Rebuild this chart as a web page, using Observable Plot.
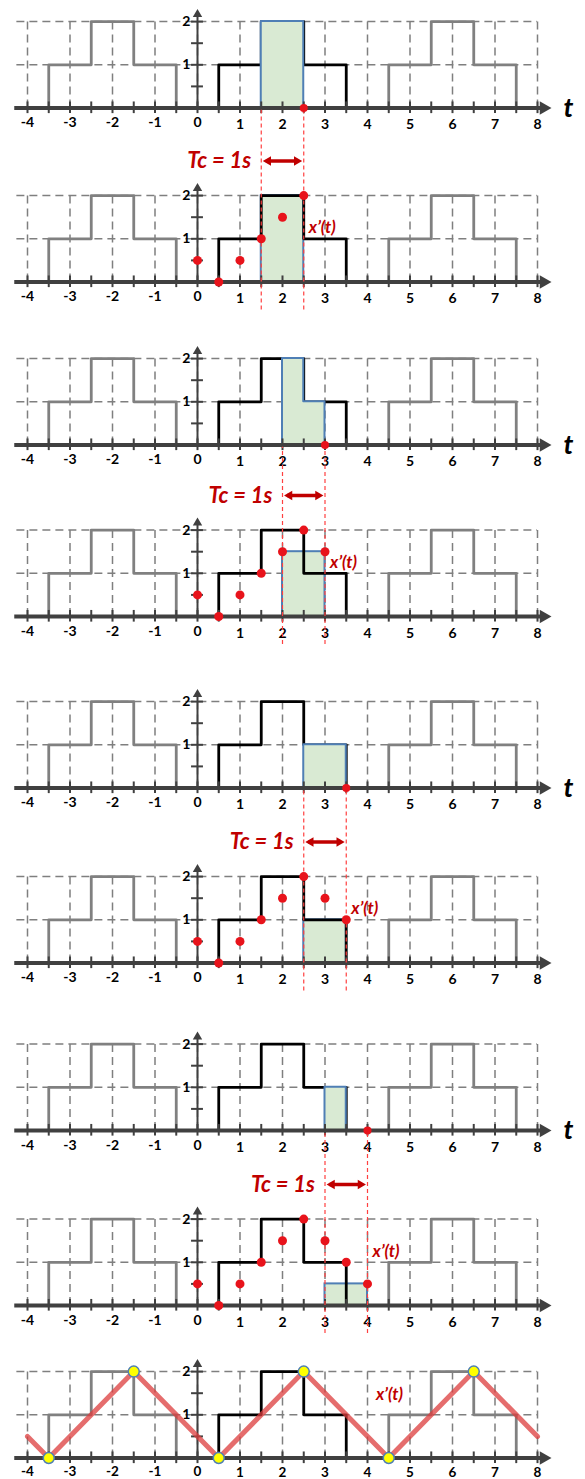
<!DOCTYPE html>
<html><head><meta charset="utf-8">
<script src="https://cdn.jsdelivr.net/npm/d3@7"></script>
<script src="https://cdn.jsdelivr.net/npm/@observablehq/plot@0.6"></script>
<style>body{margin:0;background:#fff}#chart svg{display:block}</style>
</head><body><div id="chart"></div>
<script>
// ---------- data ----------
const tickT = [-4,-3,-2,-1,0,1,2,3,4,5,6,7,8];
const tickLabels = ["-4","-3","-2","-1","0","1","2","3","4","5","6","7","8"];
const halfTickT = [-4,-3.5,-3,-2.5,-2,-1.5,-1,-0.5,0,0.5,1,1.5,2,2.5,3,3.5,4,4.5,5,5.5,6,6.5,7,7.5,8];
const yLabelValues = [1,2];
const yMinorTicks = [0.5,1,1.5,2];
const gridLevels = [1,2];
const signalEdges = [0.5,1.5,2.5,3.5];
const signalLevels = [1,2,1,0];
const signalPeriod = 4;
const copyShifts = [-4,0,4];
const windowStarts = [1.5,2,2.5,3];
const Tc = 1;
const xpT = [0,0.5,1,1.5,2,2.5,3,3.5,4];
const xpV = [0.5,0,0.5,1,1.5,2,1.5,1,0.5];
const triT = [-4,-3.5,-1.5,0.5,2.5,4.5,6.5,8];
const triV = [0.5,0,2,0,2,0,2,0.5];

// ---------- layout ----------
const W = 585, H = 1479, U = 43.2;
const baselinesPx = [107.5,281.5,444.5,616,787.5,962.5,1130,1305,1457.5];
const off = baselinesPx.map(b => (H - b) / U);
const panels = d3.range(off.length);
const pairs = d3.range(windowStarts.length);
const topP = k => 2*k, botP = k => 2*k+1, lastP = off.length - 1;

function sig(t){
  const tm = (((t - signalEdges[0]) % signalPeriod) + signalPeriod) % signalPeriod + signalEdges[0];
  let lv = 0;
  signalEdges.forEach((e,i) => { if (tm >= e - 1e-9) lv = signalLevels[i]; });
  return lv;
}

// signal step lines
const sigRows = [];
panels.forEach(p => copyShifts.forEach(s => {
  let prev = 0;
  sigRows.push({x: s + signalEdges[0], y: off[p], z: p + "_" + s, main: s === 0});
  signalEdges.forEach((e,i) => {
    sigRows.push({x: s + e, y: off[p] + prev, z: p + "_" + s, main: s === 0});
    sigRows.push({x: s + e, y: off[p] + signalLevels[i], z: p + "_" + s, main: s === 0});
    prev = signalLevels[i];
  });
}));

const gridH = panels.flatMap(p => gridLevels.map(v => ({y: off[p] + v})));
const gridV = panels.flatMap(p => tickT.map(t => ({x: t, y1: off[p], y2: off[p] + 2})));
const axisRows = panels.map(p => ({y: off[p]}));
const halfTicks = panels.flatMap(p => halfTickT.map(t => ({x: t, y1: off[p] - 0.13, y2: off[p] + 0.14})));
const yTicks = panels.flatMap(p => yMinorTicks.map(v => ({y: off[p] + v})));
const yAxis = panels.map(p => ({y1: off[p], y2: off[p] + 2.2, tip: off[p] + 2.33}));
const xLab = panels.flatMap(p => tickT.map((t,i) => ({p, x: t, y: off[p], label: tickLabels[i]})));
const xLabNeg = xLab.filter(d => d.x <= 0 && d.p !== lastP);
const xLabPos = xLab.filter(d => d.x > 0 && d.p !== lastP);
const xLabNegLast = xLab.filter(d => d.x <= 0 && d.p === lastP);
const xLabPosLast = xLab.filter(d => d.x > 0 && d.p === lastP);
const yLabs = panels.flatMap(p => yLabelValues.map(v => ({y: off[p] + v, label: String(v)})));

// windows
const avgAt = t => xpV[xpT.findIndex(v => Math.abs(v - t) < 1e-9)];
const botRects = pairs.map(k => ({x1: windowStarts[k], x2: windowStarts[k] + Tc, y1: off[botP(k)], y2: off[botP(k)] + avgAt(windowStarts[k] + Tc)}));
const topArea = [];
pairs.forEach(k => {
  const a = windowStarts[k], b = a + Tc;
  const xs = [a];
  copyShifts.forEach(s => signalEdges.forEach(e => { if (s+e > a + 1e-9 && s+e < b - 1e-9) xs.push(s+e); }));
  xs.sort((u,v) => u - v);
  xs.forEach(x => topArea.push({k, x, y1: off[topP(k)], y2: off[topP(k)] + sig(x)}));
  topArea.push({k, x: b, y1: off[topP(k)], y2: off[topP(k)] + sig(b - 1e-6)});
});
const redDash = pairs.flatMap(k => [windowStarts[k], windowStarts[k] + Tc].map(x => ({x, y1: off[botP(k)] - 0.65, y2: off[topP(k)] - 0.05})));
const botDots = pairs.flatMap(k => xpT.map((t,i) => ({x: t, y: off[botP(k)] + xpV[i]})).filter(d => d.x <= windowStarts[k] + Tc + 1e-9));
const topDots = pairs.map(k => ({x: windowStarts[k] + Tc, y: off[topP(k)]}));
const xpLabels = pairs.map(k => ({x: windowStarts[k] + Tc + 0.12, y: off[botP(k)] + 1.25}))
  .concat([{x: 4.2, y: off[lastP] + 1.47}]);
const tcRows = pairs.map(k => ({a: windowStarts[k], b: windowStarts[k] + Tc, y: off[botP(k)] + 2.8}));
const tRows = pairs.map(k => ({y: off[topP(k)]}));
const triRows = triT.map((t,i) => ({x: t, y: off[lastP] + triV[i]}));
const triVertices = triRows.slice(1, -1);

const AX = "#404040", RED = "#c00000";
const txt = {fontFamily: "Lato, 'Liberation Sans', sans-serif"};
const tick = {x: "x", y: "y", text: "label", fontWeight: "bold", fill: "#000", lineAnchor: "middle", ...txt};

const chart = Plot.plot({
  width: W, height: H,
  marginTop: 0, marginBottom: 0, marginLeft: 0, marginRight: 0,
  style: {background: "#fff", fontFamily: "Lato, sans-serif", overflow: "visible"},
  x: {domain: [-4, 8], range: [27, 537], axis: null},
  y: {domain: [0, H / U], range: [H, 0], axis: null},
  marks: [
    // grid
    Plot.ruleY(gridH, {y: "y", x1: -4.25, x2: 8, stroke: "#7f7f7f", strokeWidth: 1.5, strokeDasharray: "8,5"}),
    Plot.ruleX(gridV, {x: "x", y1: "y1", y2: "y2", stroke: "#7f7f7f", strokeWidth: 1.5, strokeDasharray: "8,5"}),
    // bottom-panel window rectangles
    Plot.rect(botRects, {x1: "x1", x2: "x2", y1: "y1", y2: "y2", fill: "#d9ead3", stroke: "#4f7fb5", strokeWidth: 2}),
    // signals
    Plot.line(sigRows.filter(d => !d.main), {x: "x", y: "y", z: "z", stroke: "#808080", strokeWidth: 2.8, curve: "linear"}),
    Plot.line(sigRows.filter(d => d.main), {x: "x", y: "y", z: "z", stroke: "#000", strokeWidth: 2.8, curve: "linear"}),
    // top-panel area under signal in window
    Plot.areaY(topArea, {x: "x", y1: "y1", y2: "y2", z: "k", curve: "step-after", fill: "#d9ead3", stroke: "#4f7fb5", strokeWidth: 2}),
    // axes
    Plot.ruleX(gridV.filter(d => d.x === 0), {x: 0, y1: "y1", y2: d => d.y1 + 2.2, stroke: AX, strokeWidth: 2}),
    Plot.dot(yAxis, {x: 0, y: "tip", symbol: "triangle2", r: 4.5, fill: AX, dy: 7}),
    Plot.ruleY(yTicks, {y: "y", x1: -0.14, x2: 0.14, stroke: AX, strokeWidth: 2}),
    Plot.ruleY(axisRows, {y: "y", x1: -4.3, x2: 8.2, stroke: AX, strokeWidth: 4}),
    Plot.ruleX(halfTicks, {x: "x", y1: "y1", y2: "y2", stroke: AX, strokeWidth: 2}),
    Plot.dot(axisRows, {x: 8.38, y: "y", symbol: "triangle2", r: 6.5, rotate: 90, fill: AX, dx: -10}),
    Plot.text(xLabNeg, {...tick, dy: 15, fontSize: 14}),
    Plot.text(xLabPos, {...tick, dy: 17, fontSize: 14}),
    Plot.text(xLabNegLast, {...tick, dy: 13.5, fontSize: 13.5}),
    Plot.text(xLabPosLast, {...tick, dy: 14.5, fontSize: 13.5}),
    Plot.text(yLabs, {x: -0.17, y: "y", text: "label", textAnchor: "end", fontSize: 14, fontWeight: "bold", fill: "#000", lineAnchor: "middle", ...txt}),
    Plot.text(tRows, {x: 8.73, y: "y", text: () => "t", fontSize: 27, fontWeight: "bold", fontStyle: "italic", fill: "#000", lineAnchor: "middle", ...txt}),
    // red dashed window edges
    Plot.ruleX(redDash, {x: "x", y1: "y1", y2: "y2", stroke: "#ff4040", strokeWidth: 1.2, strokeDasharray: "4,3"}),
    // Tc annotation
    Plot.ruleY(tcRows, {y: "y", x1: d => d.a + 0.12, x2: d => d.b - 0.12, stroke: RED, strokeWidth: 3.5}),
    Plot.dot(tcRows, {x: "a", y: "y", symbol: "triangle2", r: 4.5, rotate: -90, fill: RED, dx: 7}),
    Plot.dot(tcRows, {x: "b", y: "y", symbol: "triangle2", r: 4.5, rotate: 90, fill: RED, dx: -7}),
    Plot.text(tcRows, {x: "a", y: "y", text: () => `Tc = ${Tc}s`, dx: -10, textAnchor: "end", fontSize: 22, fontWeight: "bold", fontStyle: "italic", fill: RED, lineAnchor: "middle", ...txt}),
    // red dots
    Plot.dot(topDots, {x: "x", y: "y", r: 4, fill: "#e8131b"}),
    Plot.dot(botDots, {x: "x", y: "y", r: 4.5, fill: "#e8131b"}),
    Plot.text(xpLabels, {x: "x", y: "y", text: () => "x\u2019(t)", textAnchor: "start", fontSize: 17, fontWeight: "bold", fontStyle: "italic", fill: RED, lineAnchor: "middle", ...txt}),
    // final reconstructed signal
    Plot.line(triRows, {x: "x", y: "y", stroke: "#dc3c3c", strokeOpacity: 0.75, strokeWidth: 5}),
    Plot.dot(triVertices, {x: "x", y: "y", r: 5.5, fill: "#ffff00", stroke: "#4f7fb5", strokeWidth: 1.5})
  ]
});
document.getElementById("chart").appendChild(chart);
</script>
</body></html>
